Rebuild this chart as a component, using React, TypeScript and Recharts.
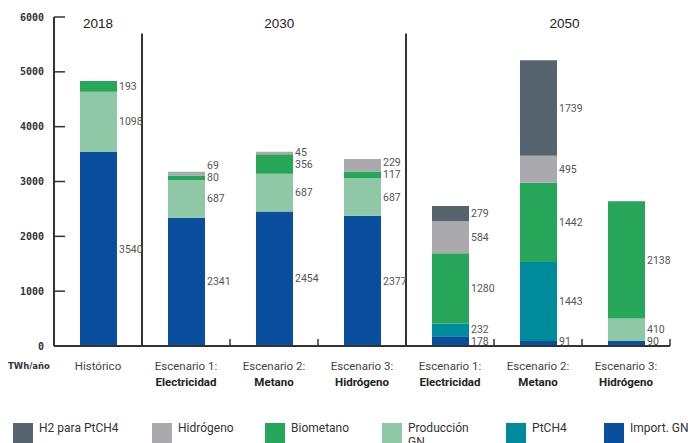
import React from 'react';
import { BarChart, Bar, XAxis, YAxis, LabelList, ReferenceLine, ReferenceDot, Legend } from 'recharts';

// categories (first line / bold scenario name)
const scenarioLine = ['Histórico', 'Escenario 1:', 'Escenario 2:', 'Escenario 3:', 'Escenario 1:', 'Escenario 2:', 'Escenario 3:'];
const scenarioName = ['', 'Electricidad', 'Metano', 'Hidrógeno', 'Electricidad', 'Metano', 'Hidrógeno'];

// series values, TWh/año (stack order bottom -> top)
const importGN = [3540, 2341, 2454, 2377, 178, 91, 90];
const ptch4 = [0, 0, 0, 0, 232, 1443, 0];
const produccionGN = [1098, 687, 687, 687, 0, 0, 410];
const biometano = [193, 80, 356, 117, 1280, 1442, 2138];
const hidrogeno = [0, 69, 45, 229, 584, 495, 0];
const h2PtCH4 = [0, 0, 0, 0, 279, 1739, 0];

const yTicks = [0, 1000, 2000, 3000, 4000, 5000, 6000];
const periods = ['2018', '2030', '2050'];

const SERIES = [
  { key: 'importGN', name: 'Import. GN', color: '#0a4f9d', values: importGN },
  { key: 'ptch4', name: 'PtCH4', color: '#008b9c', values: ptch4 },
  { key: 'produccionGN', name: 'Producción GN', color: '#8ec8a6', values: produccionGN },
  { key: 'biometano', name: 'Biometano', color: '#27a65a', values: biometano },
  { key: 'hidrogeno', name: 'Hidrógeno', color: '#a9a9ae', values: hidrogeno },
  { key: 'h2PtCH4', name: 'H2 para PtCH4', color: '#56646f', values: h2PtCH4 },
];

// layout
const CHART_W = 688;
const CHART_H = 443;
const MARGIN = { top: 17, right: 18, bottom: 37, left: 0 };
const X_AXIS_H = 60;
const PLOT_H = CHART_H - MARGIN.top - MARGIN.bottom - X_AXIS_H;
const Y_MAX = 6000;
const periodX = [0.5, 2.56, 5.8];
const separatorX = [1, 4];
const legendLeft = [13, 152, 265, 382, 506, 604];
const AXIS = '#333';

const data = scenarioLine.map((line, i) => {
  const row: Record<string, any> = { id: i, line, name: scenarioName[i] };
  SERIES.forEach((s) => {
    row[s.key] = s.values[i];
  });
  return row;
});

// push value labels apart so small segments stay readable
const PX = PLOT_H / Y_MAX;
const LABEL_GAP = 12;
const BOTTOM_LIMIT = 5;
const labelShift: Record<string, number[]> = {};
SERIES.forEach((s) => (labelShift[s.key] = []));
scenarioLine.forEach((_, i) => {
  let cum = 0;
  let prev = -Infinity;
  SERIES.forEach((s) => {
    const v = s.values[i];
    const natural = (cum + v / 2) * PX;
    cum += v;
    if (!v) return;
    const h = Math.max(natural, BOTTOM_LIMIT, prev + LABEL_GAP);
    labelShift[s.key][i] = natural - h;
    prev = h;
  });
});

// label value carries "index:value" so the content knows its category
const labelKey = (key: string) => (d: any) => `${d.id}:${d[key]}`;

const makeValueLabel = (key: string) => (props: any) => {
  const { x, y, width, height, value } = props;
  const [idx, val] = String(value).split(':');
  const i = Number(idx);
  if (!Number(val)) return null;
  const cy = Number(y) + Number(height) / 2 + (labelShift[key][i] || 0);
  return (
    <text x={Number(x) + Number(width) + 2} y={cy} dy="0.35em" fontSize={10.5} fill="#555" fontFamily="Roboto">
      {val}
    </text>
  );
};

const XTick = (props: any) => {
  const { x, y, payload, width, visibleTicksCount } = props;
  const half = payload && payload.offset ? payload.offset : width / visibleTicksCount / 2;
  const i = payload.value;
  return (
    <g>
      <line x1={x + half} x2={x + half} y1={y} y2={y - 7} stroke={AXIS} strokeWidth={1.5} />
      <text x={x} y={y + 20} dy="0.35em" textAnchor="middle" fontSize={11.5} fill="#444" fontFamily="Roboto">
        {scenarioLine[i]}
      </text>
      {scenarioName[i] && (
        <text x={x} y={y + 35.5} dy="0.35em" textAnchor="middle" fontSize={11.5} fontWeight="bold" fill="#222" fontFamily="Roboto">
          {scenarioName[i]}
        </text>
      )}
    </g>
  );
};

const YTick = (props: any) => {
  const { x, y, payload } = props;
  return (
    <g>
      {payload.value !== 0 && <line x1={x} x2={x + 11} y1={y} y2={y} stroke={AXIS} strokeWidth={1.5} />}
      <text x={x - 10} y={y} dy="0.35em" textAnchor="end" fontSize={10} fontWeight="bold" fill="#333" fontFamily="DejaVu Sans Mono">
        {payload.value}
      </text>
    </g>
  );
};

const UnitLabel = (props: any) => {
  const vb = props.viewBox || { x: 0, y: 0, height: 0 };
  return (
    <text x={vb.x + 8} y={vb.y + vb.height + 20} dy="0.35em" fontSize={8.5} fontWeight="bold" fill="#333" fontFamily="DejaVu Sans">
      TWh/año
    </text>
  );
};

const LegendBox = () => {
  const items = [...SERIES].reverse();
  return (
    <div style={{ position: 'relative', height: 0 }}>
      {items.map((s, i) => (
        <div key={s.key} style={{ position: 'absolute', left: legendLeft[i], top: 423 }}>
          <div style={{ position: 'absolute', left: 0, top: 0, width: 20, height: 20, background: s.color }} />
          <div
            style={{
              position: 'absolute',
              left: 26,
              top: -2,
              width: s.key === 'produccionGN' ? 64 : 120,
              fontFamily: 'Roboto',
              fontSize: 12,
              lineHeight: '14px',
              color: '#333',
            }}
          >
            {s.name}
          </div>
        </div>
      ))}
    </div>
  );
};

export default function App() {
  return (
    <div style={{ position: 'absolute', left: 0, top: 0, background: '#fff' }}>
      <BarChart width={CHART_W} height={CHART_H} data={data} margin={MARGIN} barSize={37}>
        <XAxis
          dataKey="id"
          height={X_AXIS_H}
          interval={0}
          tickSize={0}
          tickMargin={0}
          tickLine={false}
          axisLine={{ stroke: AXIS, strokeWidth: 2 }}
          tick={<XTick />}
        />
        <XAxis xAxisId="grid" dataKey="id" type="number" domain={[0, 7]} hide />
        <YAxis
          width={54}
          domain={[0, Y_MAX]}
          ticks={yTicks}
          interval={0}
          tickSize={0}
          tickMargin={0}
          tickLine={false}
          axisLine={{ stroke: AXIS, strokeWidth: 2 }}
          tick={<YTick />}
          label={<UnitLabel />}
        />
        {SERIES.map((s) => (
          <Bar key={s.key} dataKey={s.key} name={s.name} stackId="a" fill={s.color} isAnimationActive={false}>
            <LabelList dataKey={labelKey(s.key)} content={makeValueLabel(s.key)} />
          </Bar>
        ))}
        {separatorX.map((sx) => (
          <ReferenceLine
            key={sx}
            xAxisId="grid"
            segment={[
              { x: sx, y: 0 },
              { x: sx, y: 5700 },
            ]}
            stroke={AXIS}
            strokeWidth={2}
          />
        ))}
        {periods.map((p, i) => (
          <ReferenceDot
            key={p}
            xAxisId="grid"
            x={periodX[i]}
            y={Y_MAX}
            r={0}
            fill="none"
            stroke="none"
            label={{ value: p, position: 'center', dy: 6, fontSize: 13.5, fill: '#222', fontFamily: 'Liberation Sans' }}
          />
        ))}
        <Legend
          content={() => <LegendBox />}
          wrapperStyle={{ position: 'absolute', left: 0, top: 0, width: CHART_W, height: 0 }}
        />
      </BarChart>
    </div>
  );
}
